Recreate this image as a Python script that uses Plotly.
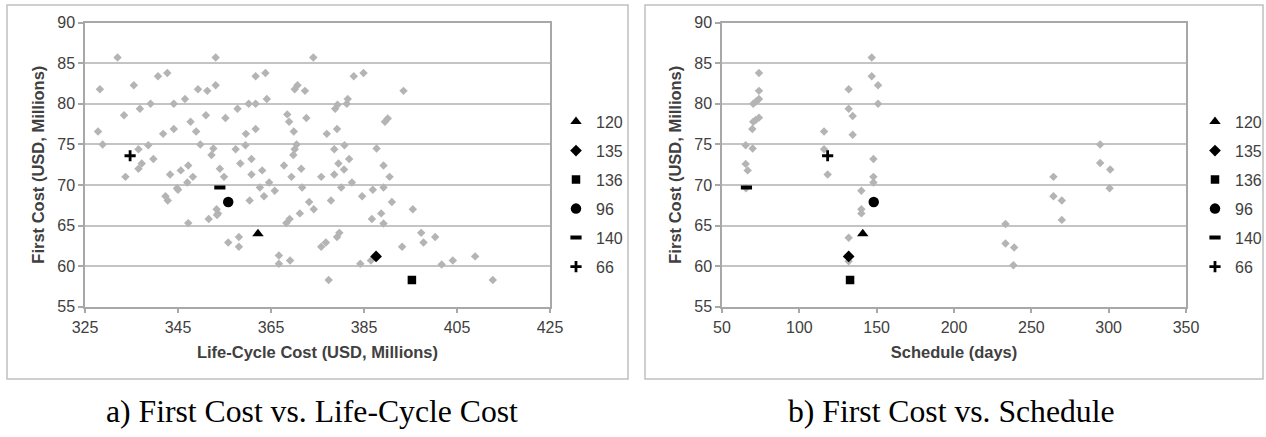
import plotly.graph_objects as go

# ---------------- data ----------------
# Panel a: gray alternatives (Life-Cycle Cost, First Cost)
lcc_gray = [332.0, 353.1, 374.1, 328.2, 335.5, 340.7, 342.7, 349.3, 351.3, 353.1, 361.7, 363.8,
            370.7, 370.1, 372.3, 333.4, 336.8, 339.1, 344.1, 346.5, 351.0, 355.2, 357.8, 360.2,
            361.7, 364.1, 368.5, 368.9, 372.6, 327.8, 328.8, 341.8, 344.1, 347.7, 348.9, 349.8,
            352.6, 352.2, 359.6, 361.7, 357.4, 359.5, 369.9, 370.5, 370.1, 369.8, 336.5, 338.6,
            339.7, 337.2, 336.5, 333.7, 343.3, 345.6, 347.2, 348.2, 347.0, 344.8, 345.0, 342.3,
            342.8, 354.0, 354.9, 358.4, 360.8, 360.8, 363.1, 362.6, 364.6, 365.8, 363.5, 360.4,
            367.8, 369.4, 371.5, 371.7, 373.2, 374.2, 375.8, 353.3, 353.6, 353.4, 351.6, 347.2,
            371.2, 369.0, 368.3, 355.8, 358.1, 358.1, 366.7, 366.7, 369.1, 375.8,
            382.8, 384.9, 393.5, 379.3, 378.8, 381.5, 381.3, 389.5, 390.1, 377.0, 379.2, 378.6,
            380.8, 387.7, 379.5, 381.8, 380.7, 378.6, 389.2, 390.5, 382.4, 380.1, 386.9, 389.2,
            384.6, 377.9, 391.0, 395.5, 388.7, 386.7, 389.2, 379.7, 379.2, 376.8, 384.2, 386.5,
            393.2, 397.3, 397.8, 400.3, 401.7, 404.1, 408.9, 377.4, 412.7]
fc_gray_a = [85.7, 85.7, 85.7, 81.8, 82.3, 83.4, 83.8, 81.8, 81.6, 82.3, 83.4, 83.8,
             82.3, 81.8, 81.6, 78.6, 79.4, 80.0, 80.0, 80.6, 78.6, 78.25, 79.4, 80.0,
             80.0, 80.6, 78.7, 77.8, 78.25, 76.6, 75.0, 76.3, 76.9, 77.8, 76.6, 75.0,
             74.5, 73.7, 76.3, 76.9, 74.4, 74.9, 76.6, 75.0, 74.4, 73.7, 74.4, 74.9,
             73.2, 72.65, 72.0, 71.0, 71.3, 71.8, 72.4, 71.0, 70.3, 69.6, 69.4, 68.6,
             68.1, 72.0, 71.0, 72.65, 73.2, 71.3, 71.8, 69.7, 70.3, 69.3, 68.6, 68.1,
             72.4, 71.0, 72.0, 69.7, 67.9, 67.0, 71.0, 67.0, 66.5, 66.3, 65.8, 65.3,
             66.5, 65.8, 65.3, 62.9, 63.6, 62.4, 61.3, 60.3, 60.7, 62.4,
             83.4, 83.8, 81.6, 79.9, 79.4, 80.6, 80.0, 77.8, 78.2, 76.3, 76.9, 74.4,
             74.9, 74.5, 72.65, 73.2, 71.9, 71.3, 72.4, 71.0, 70.3, 69.7, 69.4, 69.7,
             68.6, 68.1, 67.9, 67.0, 66.5, 65.8, 65.25, 64.1, 63.6, 62.9, 60.3, 60.7,
             62.4, 64.1, 62.9, 63.6, 60.2, 60.7, 61.2, 58.3, 58.3]

# Panel b: gray alternatives (Schedule, First Cost)
sched_gray = [73.9, 73.9, 73.9, 72.0, 70.2, 73.9, 71.8, 70.2, 69.6, 65.3, 69.8, 65.3, 66.6, 65.5,
              116.0, 116.0, 118.3,
              131.9, 131.9, 134.5, 134.5, 146.8, 146.8, 150.9, 150.9, 147.9, 147.9, 147.9,
              140.1, 140.1, 140.1, 131.9, 131.9,
              294.5, 294.5, 301.0, 264.3, 264.3, 269.7, 300.6, 269.7, 233.3, 233.3, 238.9, 238.4]
fc_gray_b = [83.8, 81.6, 80.6, 80.3, 80.0, 78.3, 78.0, 77.8, 76.9, 74.9, 74.5, 72.6, 71.8, 69.6,
             76.6, 74.4, 71.3,
             81.8, 79.4, 78.5, 76.2, 85.7, 83.4, 82.3, 80.0, 73.2, 71.0, 70.3,
             69.3, 67.0, 66.5, 63.5, 60.6,
             75.0, 72.7, 71.9, 71.0, 68.6, 68.1, 69.6, 65.7, 65.2, 62.8, 62.3, 60.1]

# Highlighted alternatives
alt_labels = ["120", "135", "136", "96", "140", "66"]
alt_lcc = [362.2, 387.6, 395.3, 355.8, 354.0, 334.7]
alt_sched = [141.0, 131.9, 132.8, 148.1, 65.8, 118.3]
alt_fc = [64.0, 61.2, 58.3, 67.9, 69.7, 73.6]

# ---------------- styling ----------------
W, H = 1266, 437
FONT = "Liberation Sans"
TXT = "#404040"
GRAY = "#b4b4b4"
GRID = "#c4c4c4"
AXL = "#a8a8a8"

symbols = ["triangle-up", "diamond", "square", "circle", "line-ew", "cross-thin"]
sizes = [10, 9, 8.5, 10.5, 8, 8]
linew = [0, 0, 0, 0, 4, 2.8]


def px_x(p):
    return p / W


def px_y(p):
    return 1 - p / H


fig = go.Figure()

fig.add_trace(go.Scatter(x=lcc_gray, y=fc_gray_a, mode="markers", xaxis="x", yaxis="y",
                         marker=dict(symbol="diamond", size=6.5, color=GRAY),
                         showlegend=False, hoverinfo="x+y"))
fig.add_trace(go.Scatter(x=sched_gray, y=fc_gray_b, mode="markers", xaxis="x2", yaxis="y2",
                         marker=dict(symbol="diamond", size=6.5, color=GRAY),
                         showlegend=False, hoverinfo="x+y"))

for i, lab in enumerate(alt_labels):
    mk = dict(symbol=symbols[i], size=sizes[i], color="black",
              line=dict(width=linew[i], color="black"))
    fig.add_trace(go.Scatter(x=[alt_lcc[i]], y=[alt_fc[i]], mode="markers", name=lab,
                             xaxis="x", yaxis="y", marker=mk, legend="legend",
                             legendgroup="a" + lab))
    fig.add_trace(go.Scatter(x=[alt_sched[i]], y=[alt_fc[i]], mode="markers", name=lab,
                             xaxis="x2", yaxis="y2", marker=mk, legend="legend2",
                             legendgroup="b" + lab))

axis_common = dict(showline=True, linecolor=AXL, linewidth=1.5, mirror=True,
                   ticks="outside", ticklen=5, tickwidth=1.5, tickcolor=AXL, automargin=False,
                   tickfont=dict(family=FONT, size=16, color=TXT), zeroline=False)
title_font = dict(family=FONT, size=16.5, color=TXT, weight="bold")

ydom = [px_y(306.7), px_y(22.7)]

legend_common = dict(font=dict(family=FONT, size=16, color=TXT), bgcolor="rgba(0,0,0,0)",
                     borderwidth=0, tracegroupgap=5.2, itemclick=False, itemdoubleclick=False,
                     xanchor="left", yanchor="top")

fig.update_layout(
    width=W, height=H, margin=dict(l=0, r=0, t=0, b=0, pad=0, autoexpand=False),
    paper_bgcolor="white", plot_bgcolor="white",
    xaxis=dict(domain=[px_x(85), px_x(550)], range=[325, 425], tick0=325, dtick=20,
               showgrid=False, anchor="y",
               title=dict(text="Life-Cycle Cost (USD, Millions)", font=title_font, standoff=12),
               **axis_common),
    yaxis=dict(domain=ydom, range=[55, 90], dtick=5, showgrid=True, gridcolor=GRID,
               gridwidth=1.5, anchor="x",
               title=dict(text="First Cost (USD, Millions)", font=title_font, standoff=8),
               **axis_common),
    xaxis2=dict(domain=[px_x(722), px_x(1186)], range=[50, 350], tick0=50, dtick=50,
                showgrid=False, anchor="y2",
                title=dict(text="Schedule (days)", font=title_font, standoff=12),
                **axis_common),
    yaxis2=dict(domain=ydom, range=[55, 90], dtick=5, showgrid=True, gridcolor=GRID,
                gridwidth=1.5, anchor="x2",
                title=dict(text="First Cost (USD, Millions)", font=title_font, standoff=8),
                **axis_common),
    legend=dict(x=px_x(556), y=px_y(104.7), **legend_common),
    legend2=dict(x=px_x(1195), y=px_y(104.7), **legend_common),
    shapes=[
        dict(type="rect", xref="paper", yref="paper", x0=px_x(7), x1=px_x(628),
             y0=px_y(379), y1=px_y(5), line=dict(color="#c0c0c0", width=1.5)),
        dict(type="rect", xref="paper", yref="paper", x0=px_x(645), x1=px_x(1263),
             y0=px_y(379), y1=px_y(5), line=dict(color="#c0c0c0", width=1.5)),
    ],
    annotations=[
        dict(text="a) First Cost vs. Life-Cycle Cost", xref="paper", yref="paper",
             x=px_x(312), y=px_y(411), xanchor="center", yanchor="middle", showarrow=False,
             font=dict(family="Liberation Serif", size=31.7, color="black")),
        dict(text="b) First Cost vs. Schedule", xref="paper", yref="paper",
             x=px_x(951), y=px_y(411), xanchor="center", yanchor="middle", showarrow=False,
             font=dict(family="Liberation Serif", size=31.7, color="black")),
    ],
)

fig.write_html(
    "out.html",
    config={"displayModeBar": False},
    post_script="document.documentElement.style.margin='0';document.body.style.margin='0';"
                "document.body.style.padding='0';document.body.style.overflow='hidden';",
)
